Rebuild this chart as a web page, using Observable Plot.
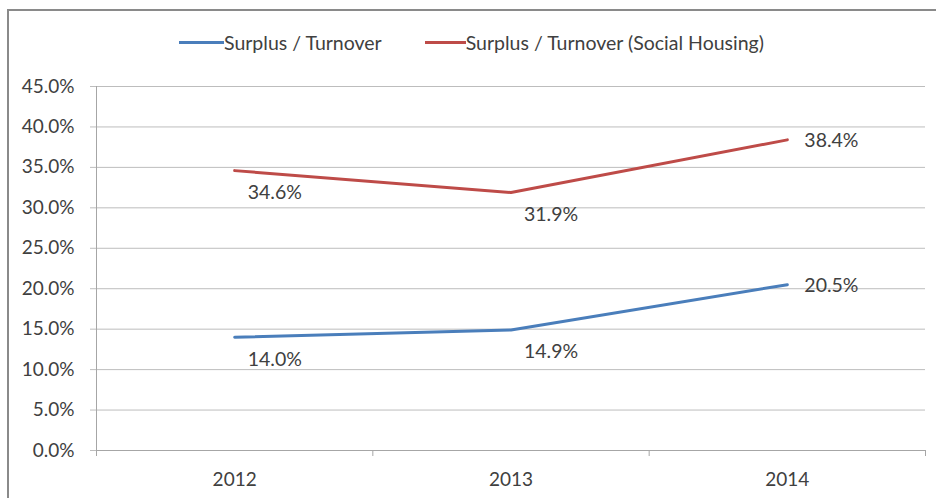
<!DOCTYPE html>
<html>
<head>
<meta charset="utf-8">
<script src="https://cdn.jsdelivr.net/npm/d3@7"></script>
<script src="https://cdn.jsdelivr.net/npm/@observablehq/plot@0.6"></script>
<style>
  html, body { margin: 0; padding: 0; background: #fff; overflow: hidden; }
  body { width: 936px; height: 498px; position: relative; font-family: Lato, "Open Sans", sans-serif; }
  #frame { position: absolute; left: 7px; top: 9px; width: 1000px; height: 1000px;
           border-left: 2px solid #8a8a8a; border-top: 2px solid #8a8a8a; }
  #legend { position: absolute; top: 30px; left: 179px; height: 24px; display: flex; align-items: center;
            font-size: 19.5px; color: #404040; white-space: nowrap; }
  .item { display: flex; align-items: center; }
  .sw { display: inline-block; height: 3px; }
  #chart { position: absolute; left: 0; top: 70px; }
</style>
</head>
<body>
<div id="frame"></div>
<div id="legend"></div>
<div id="chart"></div>
<script>
const years = [2012, 2013, 2014];
const surplusTurnover = [0.140, 0.149, 0.205];
const surplusTurnoverSocial = [0.346, 0.319, 0.384];
const seriesNames = ["Surplus / Turnover", "Surplus / Turnover (Social Housing)"];
const seriesColors = ["#4a7ebb", "#be4b48"];
const yTicks = [0, 0.05, 0.10, 0.15, 0.20, 0.25, 0.30, 0.35, 0.40, 0.45];

const rows = years.flatMap((yr, i) => [
  {year: yr, value: surplusTurnover[i], series: seriesNames[0]},
  {year: yr, value: surplusTurnoverSocial[i], series: seriesNames[1]}
]);
const boundaries = [years[0] - 0.5, ...years.map(y => y + 0.5)];
const pct = d3.format(".1%");

// legend
const legend = document.getElementById("legend");
seriesNames.forEach((name, i) => {
  const it = document.createElement("span");
  it.className = "item";
  it.style.marginRight = i === 0 ? "43px" : "0";
  const sw = document.createElement("span");
  sw.className = "sw";
  sw.style.width = i === 0 ? "45px" : "41px";
  sw.style.background = seriesColors[i];
  const tx = document.createElement("span");
  tx.textContent = name;
  it.append(sw, tx);
  legend.append(it);
});

const chart = Plot.plot({
  width: 936,
  height: 428,
  marginTop: 16,
  marginBottom: 48,
  marginLeft: 96,
  marginRight: 11,
  style: {fontFamily: "Lato, 'Open Sans', sans-serif", fontSize: "19px", color: "#404040", background: "transparent"},
  x: {type: "linear", domain: [boundaries[0], boundaries[boundaries.length - 1]]},
  y: {domain: [0, 0.45]},
  color: {domain: seriesNames, range: seriesColors},
  marks: [
    Plot.gridY(yTicks, {stroke: "#bdbdbd", strokeOpacity: 1}),
    Plot.axisY(yTicks, {tickFormat: pct, tickSize: 6, tickPadding: 16, stroke: "#bdbdbd", label: null, fill: "#404040"}),
    Plot.ruleX([boundaries[0]], {stroke: "#a6a6a6"}),
    Plot.ruleY([0], {stroke: "#a6a6a6"}),
    Plot.axisX(boundaries, {tickSize: 6, tickFormat: () => "", stroke: "#a6a6a6", label: null}),
    Plot.axisX(years, {tickSize: 0, tickPadding: 22, tickFormat: d => String(d), label: null, fill: "#404040"}),
    Plot.lineY(rows, {x: "year", y: "value", z: "series", stroke: "series", strokeWidth: 3}),
    Plot.text(rows.filter(d => d.year !== years[2]), {x: "year", y: "value", text: d => pct(d.value), textAnchor: "start", dx: 13, dy: 22, fill: "#404040", fontSize: 19.5}),
    Plot.text(rows.filter(d => d.year === years[2]), {x: "year", y: "value", text: d => pct(d.value), textAnchor: "start", dx: 17, dy: 1, fill: "#404040", fontSize: 19.5})
  ]
});
document.getElementById("chart").append(chart);
</script>
</body>
</html>
